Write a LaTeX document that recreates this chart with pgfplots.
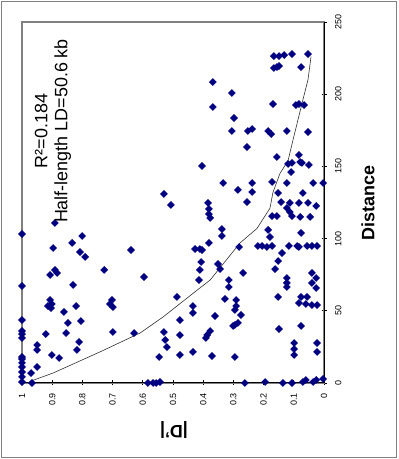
\documentclass[border=0pt]{standalone}
\usepackage{pgfplots}
\pgfplotsset{compat=1.18}
\usepackage{pgfplotstable}
\usepackage{fontspec}
\setmainfont{Liberation Sans}

\definecolor{ptnavy}{HTML}{000080}
\definecolor{framegray}{HTML}{808080}
\definecolor{fitgray}{HTML}{303030}

% |D'| against distance (kb) for marker pairs
\pgfplotstableread{
D dist
0.166 226.4
0.149 226.4
0.132 227.1
0.106 227.8
0.053 227.8
0.166 218.1
0.156 218.8
0.149 219.5
0.076 218.8
0.368 208.4
0.305 200.8
0.368 191.1
0.169 193.2
0.093 192.5
0.083 193.2
0.066 192.5
0.298 183.5
0.305 174.5
0.252 174.5
0.238 175.9
0.185 174.5
0.175 172.4
0.123 174.5
0.053 173.8
0.255 163.4
0.156 156.5
0.083 157.9
0.079 153.0
0.119 151.7
0.050 151.0
0.073 152.4
0.106 152.4
0.404 150.3
0.109 146.1
0.334 138.5
0.238 138.5
0.172 139.2
0.123 138.5
0.036 138.5
0.003 138.5
0.285 133.7
0.238 132.3
0.152 131.6
0.070 131.6
0.530 130.9
0.255 125.3
0.142 125.3
0.113 124.7
0.083 124.7
0.053 124.7
0.026 122.6
0.123 121.2
0.113 118.4
0.172 115.6
0.156 115.6
0.106 115.6
0.079 115.0
0.046 115.0
0.384 124.7
0.381 120.5
0.381 117.0
0.377 114.3
0.507 123.3
0.891 110.8
0.338 106.6
0.338 101.8
1.000 103.2
0.801 101.8
0.185 106.0
0.179 101.1
0.076 103.9
0.834 97.0
0.381 97.0
0.897 93.5
0.639 92.1
0.427 92.8
0.411 92.8
0.404 92.1
0.281 94.2
0.219 94.9
0.205 94.9
0.189 94.2
0.172 94.9
0.116 94.9
0.089 94.9
0.083 94.2
0.056 94.9
0.040 94.9
0.023 94.9
0.808 90.7
0.791 87.3
0.139 90.0
0.152 84.5
0.407 83.8
0.351 82.4
0.162 78.9
0.344 78.9
0.728 78.3
0.891 78.3
0.884 76.2
0.907 74.8
0.268 76.2
0.596 73.4
0.315 71.3
0.315 66.5
0.123 72.7
0.123 69.3
0.123 66.5
0.040 76.2
0.026 72.7
0.040 69.3
0.026 65.8
0.831 67.9
1.000 67.2
0.411 78.3
0.414 71.3
0.487 59.6
0.152 59.6
0.076 59.6
0.056 59.6
0.328 58.2
0.291 57.5
0.291 53.3
0.295 50.6
0.083 55.4
0.060 54.7
0.040 54.0
0.023 54.0
0.907 57.5
0.901 54.7
0.914 53.3
0.904 51.9
0.702 57.5
0.709 54.7
0.699 52.6
0.821 53.3
0.434 53.3
0.434 48.5
0.861 49.2
0.275 47.1
0.361 46.4
1.000 43.6
0.805 42.9
0.848 41.6
0.477 43.6
0.285 41.6
0.295 40.2
0.301 39.5
0.076 39.5
0.149 37.4
1.000 36.0
1.000 33.9
1.000 31.2
0.854 34.6
0.921 33.9
0.699 35.3
0.629 34.6
0.530 35.3
0.526 29.8
0.520 24.9
0.377 36.0
0.387 33.2
0.391 31.2
0.477 33.2
0.811 28.4
0.818 22.9
0.950 26.3
0.950 22.9
0.099 27.7
0.099 23.5
0.099 19.4
0.023 27.7
0.023 21.5
0.434 21.5
0.477 19.4
0.901 19.4
0.877 17.3
0.546 18.0
0.371 18.7
0.295 18.0
1.000 18.0
1.000 16.6
1.000 13.9
1.000 11.1
1.000 7.6
1.000 4.2
1.000 0.7
0.950 11.1
0.970 6.9
0.967 0.0
0.583 0.0
0.566 0.0
0.556 0.0
0.543 0.7
0.262 0.0
0.195 0.7
0.136 0.0
0.106 0.0
0.070 0.7
0.060 2.1
0.036 0.7
0.026 2.1
0.003 2.8
}\ldpoints

% fitted decay curve
\pgfplotstableread{
D dist
0.975 1.0
0.897 6.9
0.742 21.5
0.609 34.6
0.533 45.7
0.411 65.8
0.377 71.3
0.318 86.6
0.278 97.0
0.222 107.0
0.179 121.0
0.169 132.0
0.146 145.0
0.119 154.0
0.103 168.0
0.070 196.0
0.053 210.0
0.043 226.0
}\ldfit

\begin{document}
\begin{tikzpicture}[x=1bp,y=1bp]
\useasboundingbox (0,0) rectangle (398,459);
\draw[framegray, line width=1.8bp] (1.5,1.5) rectangle (396.5,457.5);

\begin{axis}[
  at={(173bp,256.5bp)}, anchor=center,
  scale only axis, width=302bp, height=361bp,
  x dir=reverse,
  xmin=0, xmax=1, ymin=0, ymax=250,
  clip=false,
  axis line style={draw=framegray, line width=1.2bp},
  xtick={0,0.1,0.2,0.3,0.4,0.5,0.6,0.7,0.8,0.9,1},
  xticklabels={0,0.1,0.2,0.3,0.4,0.5,0.6,0.7,0.8,0.9,1},
  ytick={0,50,100,150,200,250},
  xtick pos=bottom, ytick pos=right,
  yticklabel pos=right,
  tick align=center,
  major tick length=5bp,
  tick style={black, line width=0.8bp},
  ticklabel style={font=\fontsize{9}{10}\selectfont},
  /pgf/number format/assume math mode=true,
  xticklabel style={rotate=90, anchor=east},
  yticklabel style={rotate=90, anchor=north},
  xticklabel shift=4bp,
  yticklabel shift=5bp,
]
\draw[black, line width=1bp] (axis cs:1,0) -- (axis cs:0,0) -- (axis cs:0,250);
\addplot[only marks, mark=square*, mark size=2.5bp,
  mark options={fill=ptnavy, draw=ptnavy, rotate=45}] table[x=D, y=dist] {\ldpoints};
\addplot[fitgray, line width=0.6bp, no marks] table[x=D, y=dist] {\ldfit};
\end{axis}

\node[rotate=90, align=center, font=\fontsize{18}{20}\selectfont] at (53,328)
  {R²=0.184\\Half-length LD=50.6 kb};
\node[rotate=90, font=\fontsize{18}{20}\selectfont\bfseries] at (368,256) {Distance};
\node[rotate=180, font=\fontsize{18}{20}\selectfont\bfseries] at (174,29) {|D'|};
\end{tikzpicture}
\end{document}
